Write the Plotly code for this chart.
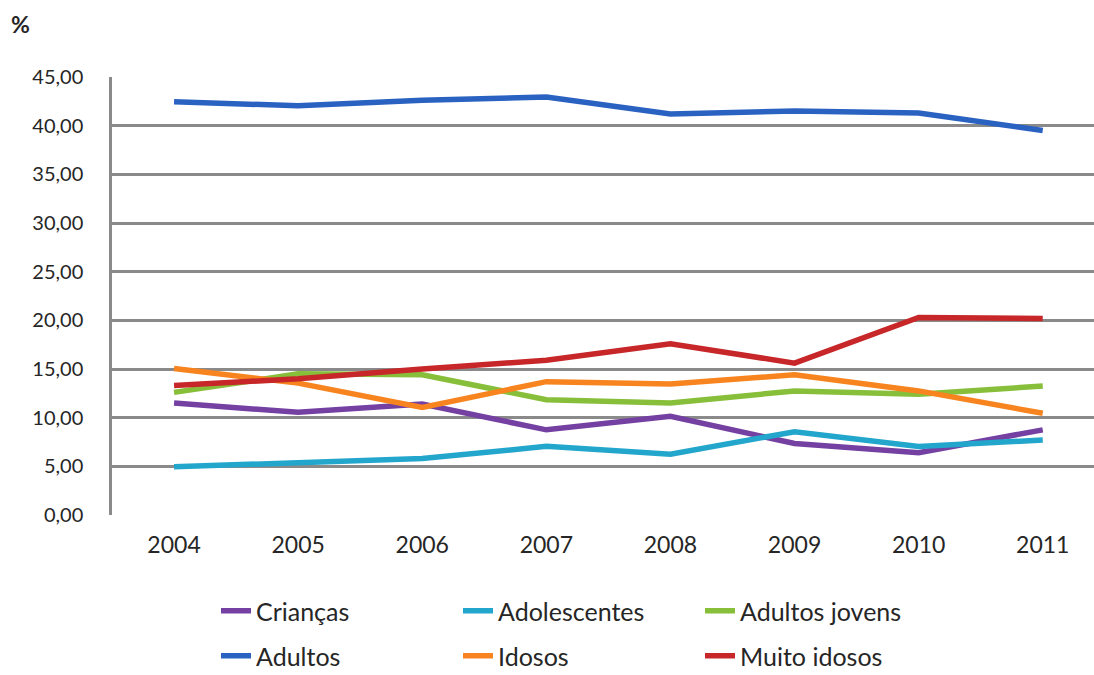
import plotly.graph_objects as go

# Share of each age group (%) per year
anos = ["2004", "2005", "2006", "2007", "2008", "2009", "2010", "2011"]

criancas = [11.5, 10.55, 11.4, 8.75, 10.15, 7.35, 6.4, 8.75]
adolescentes = [4.95, 5.4, 5.8, 7.05, 6.25, 8.55, 7.05, 7.7]
adultos_jovens = [12.6, 14.5, 14.4, 11.85, 11.5, 12.75, 12.4, 13.25]
adultos = [42.45, 42.05, 42.6, 42.95, 41.2, 41.5, 41.3, 39.5]
idosos = [15.05, 13.55, 11.05, 13.7, 13.45, 14.4, 12.75, 10.45]
muito_idosos = [13.3, 14.0, 15.0, 15.9, 17.6, 15.6, 20.3, 20.2]

yticks = [0, 5, 10, 15, 20, 25, 30, 35, 40, 45]
ytick_text = ["0,00", "5,00", "10,00", "15,00", "20,00", "25,00",
              "30,00", "35,00", "40,00", "45,00"]

series = [
    ("Crianças", criancas, "#7440a2", "legend"),
    ("Adolescentes", adolescentes, "#23a6cc", "legend"),
    ("Adultos jovens", adultos_jovens, "#88bf3a", "legend"),
    ("Adultos", adultos, "#2a62c1", "legend2"),
    ("Idosos", idosos, "#f7841f", "legend2"),
    ("Muito idosos", muito_idosos, "#c72728", "legend2"),
]

fig = go.Figure()
for name, vals, color, leg in series:
    fig.add_trace(go.Scatter(
        x=list(range(len(anos))), y=vals, name=name, mode="lines",
        line=dict(color=color, width=5.5), legend=leg,
    ))

font_family = "Lato, 'Open Sans', sans-serif"
text_color = "#262626"
grid_color = "#8a8a8a"

legend_common = dict(
    orientation="h", xref="container", yref="container",
    xanchor="left", yanchor="middle",
    entrywidth=197, entrywidthmode="pixels",
    font=dict(family=font_family, size=25, color=text_color),
    bgcolor="rgba(0,0,0,0)", borderwidth=0,
    itemclick=False, itemdoubleclick=False,
)

fig.update_layout(
    width=1094, height=675,
    margin=dict(l=112, r=0, t=77, b=160),
    paper_bgcolor="white", plot_bgcolor="white",
    showlegend=True,
    legend=dict(legend_common, x=216 / 1094, y=1 - 611 / 675),
    legend2=dict(legend_common, x=216 / 1094, y=1 - 656 / 675),
    xaxis=dict(
        range=[-0.5, 7.413],
        tickmode="array", tickvals=list(range(len(anos))), ticktext=anos,
        showgrid=False, zeroline=False, showline=False, ticks="",
        tickfont=dict(family=font_family, size=23, color=text_color),
        ticklabelstandoff=14,
    ),
    yaxis=dict(
        range=[0, 45],
        tickmode="array", tickvals=yticks, ticktext=ytick_text,
        showgrid=True, gridcolor=grid_color, gridwidth=2.5,
        zeroline=False, showline=True, linecolor=grid_color, linewidth=2.5,
        ticks="", ticklabelstandoff=22,
        tickfont=dict(family=font_family, size=20, color=text_color),
    ),
    annotations=[dict(
        text="<b>%</b>", xref="paper", yref="paper",
        x=(9 - 112) / 982, y=1 + (77 - 24) / 438,
        xanchor="left", yanchor="middle", showarrow=False,
        font=dict(family=font_family, size=23, color=text_color),
    )],
)

fig.write_html("out.html")
